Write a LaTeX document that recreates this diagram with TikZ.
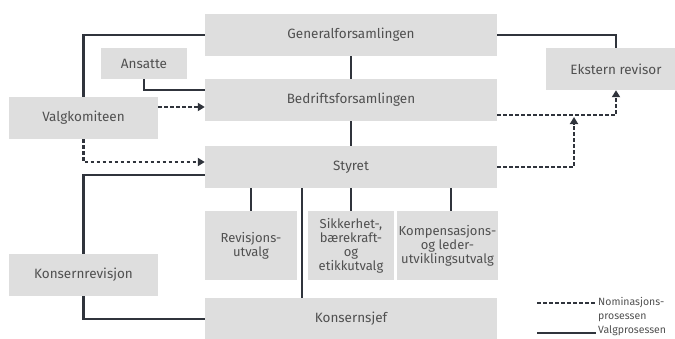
\documentclass[tikz,border=0pt]{standalone}
\usepackage{fontspec}
\setmainfont{Fira Sans}
\usetikzlibrary{arrows.meta,calc}
\definecolor{boxfill}{HTML}{DEDEDE}
\definecolor{txt}{HTML}{505050}
\definecolor{ln}{HTML}{30343C}
\begin{document}
\begin{tikzpicture}[x=1pt,y=-1pt,
  box/.style={fill=boxfill,draw=none,inner sep=0pt,text=txt,font=\fontsize{13.5}{15}\selectfont,align=center},
  cbox/.style={box,font=\fontsize{13}{14}\selectfont},
  sol/.style={draw=ln,line width=2.5pt},
  nom/.style={draw=ln,line width=2.5pt,dash pattern=on 3.5pt off 2.5pt},
  tip/.style={-{Triangle[length=7pt,width=8pt]}},
  leg/.style={text=txt,font=\fontsize{10.5}{12}\selectfont,anchor=west,inner sep=0pt}]
\useasboundingbox (0,0) rectangle (675,338);
\begin{scope}
\clip (0,0) rectangle (675,338);
\node[box,minimum width=292pt,minimum height=42pt] (gf) at (351,35) {Generalforsamlingen};
\node[box,minimum width=86pt,minimum height=31pt] (ans) at (144,63.5) {Ansatte};
\node[box,minimum width=292pt,minimum height=42pt] (bf) at (351,100) {Bedriftsforsamlingen};
\node[box,minimum width=149pt,minimum height=42pt] (vk) at (83.5,118) {Valgkomiteen};
\node[box,minimum width=292pt,minimum height=42pt] (st) at (351,167) {Styret};
\node[box,minimum width=140pt,minimum height=42pt] (er) at (616,69) {Ekstern revisor};
\node[cbox,minimum width=92pt,minimum height=69pt] (rev) at (251,245.5) {Revisjons-\\utvalg};
\node[cbox,minimum width=86pt,minimum height=69pt] (sik) at (351,245.5) {Sikkerhet-,\\bærekraft-\\og\\etikkutvalg};
\node[cbox,minimum width=101pt,minimum height=69pt] (komp) at (447.5,245.5) {Kompensasjons-\\og leder-\\utviklingsutvalg};
\node[box,minimum width=149pt,minimum height=42pt] (kr) at (83.5,275) {Konsernrevisjon};
\node[box,minimum width=292pt,minimum height=42pt] (ks) at (351,319) {Konsernsjef};
\end{scope}
\coordinate (kt) at ([xshift=3.5pt]komp.north);
\coordinate (stl) at ([xshift=-49pt]st.south);
\coordinate (ksl) at ([xshift=-49pt]ks.north);
% solid connectors
\draw[sol] (gf.west) -| (vk.north);
\draw[sol] (gf.east) -| (er.north);
\draw[sol] (gf.south) -- (bf.north);
\draw[sol] (bf.south) -- (st.north);
\draw[sol] (ans.south) |- ([yshift=10pt]bf.west);
\draw[sol] ([yshift=-8pt]st.west) -| (kr.north);
\draw[sol] (kr.south) |- (ks.west);
\draw[sol] (st.south -| rev.north) -- (rev.north);
\draw[sol] (st.south -| sik.north) -- (sik.north);
\draw[sol] (st.south -| kt) -- (kt);
\draw[sol] (stl) -- (ksl);
% nomination connectors
\draw[nom,tip] ([yshift=11pt]vk.east) -- ([yshift=11pt]vk.east -| bf.west);
\draw[nom,tip] (vk.south) |- ([yshift=5pt]st.west);
\draw[nom,tip] ([yshift=-15pt]bf.east) -| (er.south);
\coordinate (ja) at (574,117);
\draw[nom,tip] (st.east) -| (ja);
% legend
\coordinate (l1a) at (537,303);
\coordinate (l1b) at (596,303);
\coordinate (l2a) at (537,333);
\coordinate (l2b) at (596,333);
\draw[nom] (l1a) -- (l1b);
\draw[sol] (l2a) -- (l2b);
\node[leg] (t1) at (598,303) {Nominasjons-};
\node[leg] (t2) at (598,318) {prosessen};
\node[leg] (t3) at (598,331) {Valgprosessen};
\end{tikzpicture}
\end{document}
